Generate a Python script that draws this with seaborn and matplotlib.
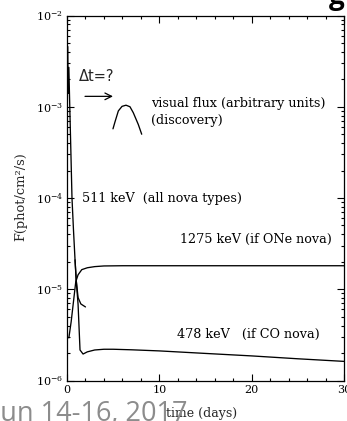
import numpy as np
import pandas as pd
import matplotlib
matplotlib.use("Agg")
import matplotlib.pyplot as plt
from matplotlib.ticker import LogLocator, MultipleLocator, NullFormatter
import seaborn as sns

# Gamma-ray line light curves of classical novae (phot/cm^2/s vs days)
t_511 = [0.0, 0.06, 0.12, 0.2, 0.3, 0.4, 0.54, 0.7, 0.87, 1.0, 1.2, 1.5, 2.0]
f_511 = [1.0e-4, 4.6e-3, 1.4e-3, 2.7e-3, 1.0e-3, 3.9e-4, 1.0e-4, 4.5e-5, 2.1e-5,
         1.25e-5, 8.1e-6, 6.9e-6, 6.4e-6]

t_1275 = [0.2, 0.45, 0.7, 0.95, 1.2, 1.6, 2.2, 3.0, 4.0, 6.0, 10, 15, 20, 25, 30]
f_1275 = [2.93e-6, 4.4e-6, 7.3e-6, 1.21e-5, 1.44e-5, 1.64e-5, 1.72e-5, 1.77e-5,
          1.80e-5, 1.81e-5, 1.81e-5, 1.81e-5, 1.81e-5, 1.81e-5, 1.81e-5]

t_478 = [0.87, 1.0, 1.2, 1.41, 1.74, 2.2, 3.0, 4.0, 5.0, 7.0, 10, 15, 20, 25, 30]
f_478 = [2.1e-5, 1.25e-5, 6.8e-6, 2.16e-6, 1.95e-6, 2.06e-6, 2.16e-6, 2.2e-6,
         2.2e-6, 2.17e-6, 2.11e-6, 1.98e-6, 1.86e-6, 1.73e-6, 1.62e-6]

# Optical light curve sketch (arbitrary units)
t_visual = [4.98, 5.2, 5.56, 5.96, 6.39, 6.82, 7.18, 7.72, 8.09]
f_visual = [5.73e-4, 6.84e-4, 9.0e-4, 1.01e-3, 1.04e-3, 1.0e-3, 8.6e-4, 6.4e-4, 5.0e-4]

x_ticks = [0, 10, 20, 30]

sns.set_theme(style="ticks")
plt.rcParams["font.family"] = ["DejaVu Serif"]
plt.rcParams["mathtext.fontset"] = "dejavuserif"

fig = plt.figure(figsize=(3.47, 4.21), dpi=100)
ax = fig.add_axes([67 / 347, 40.5 / 421, 277 / 347, 365 / 421])

curves = [(t_511, f_511), (t_1275, f_1275), (t_478, f_478), (t_visual, f_visual)]
for t, f in curves:
    df = pd.DataFrame({"t": t, "f": f})
    sns.lineplot(data=df, x="t", y="f", ax=ax, color="black", lw=0.95,
                 estimator=None, sort=False)

ax.set_yscale("log")
ax.set_xlim(0, 30)
ax.set_ylim(1e-6, 1e-2)
ax.set_xticks(x_ticks)
ax.xaxis.set_minor_locator(MultipleLocator(2))
ax.yaxis.set_major_locator(LogLocator(base=10, numticks=10))
ax.yaxis.set_minor_locator(LogLocator(base=10, subs=np.arange(2, 10), numticks=20))
ax.yaxis.set_minor_formatter(NullFormatter())

ax.tick_params(which="both", direction="in", top=True, right=True, colors="black",
               labelsize=8, width=0.8)
ax.tick_params(which="major", length=5, pad=3)
ax.tick_params(which="minor", length=2.5)
for s in ax.spines.values():
    s.set_color("black")
    s.set_linewidth(0.9)

ax.set_xlabel("time (days)", fontsize=9)
ax.set_ylabel("F(phot/cm²/s)", fontsize=9.4)
ax.xaxis.set_label_coords(0.487, -0.072)
ax.yaxis.set_label_coords(-0.142, 0.503)

txt = dict(fontsize=9.2, color="black", va="center", ha="left")
ax.text(9.1, 1.09e-3, "visual flux (arbitrary units)", **txt)
ax.text(9.1, 7.1e-4, "(discovery)", **txt)
ax.text(1.62, 9.9e-5, "511 keV  (all nova types)", **txt)
ax.text(12.24, 3.5e-5, "1275 keV (if ONe nova)", **txt)
ax.text(11.9, 3.16e-6, "478 keV   (if CO nova)", **txt)
ax.text(1.3, 2.16e-3, "Δt=?", fontsize=10.5, family="DejaVu Sans", va="center", ha="left")
ax.annotate("", xy=(4.98, 1.3e-3), xytext=(1.95, 1.3e-3),
            arrowprops=dict(arrowstyle="->", color="black", lw=0.9,
                            mutation_scale=12, shrinkA=0, shrinkB=0))

# Slide furniture around the figure
fig.text(-7 / 347, 0.5 / 421, "Jun 14-16, 2017", fontsize=19.5, family="Open Sans",
         color="#8c8c8c", ha="left", va="baseline")
fig.text(329 / 347, 1 - 4 / 421, "g", fontsize=20, family="Open Sans",
         fontweight="bold", color="black", ha="left", va="baseline")

fig.savefig("out.png", dpi=100)
